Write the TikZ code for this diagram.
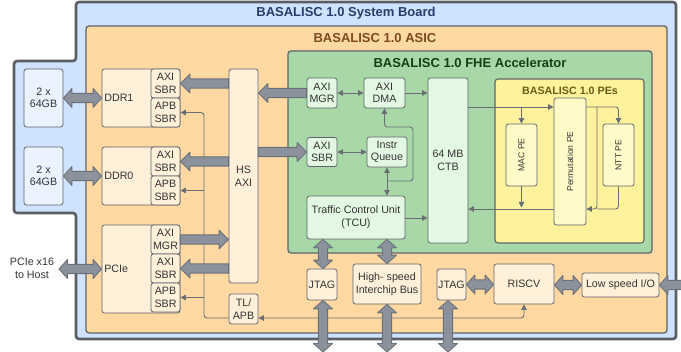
\documentclass[tikz,border=0pt]{standalone}
\usepackage{fontspec}
\setmainfont{Liberation Sans}
\usetikzlibrary{arrows.meta,calc}
\definecolor{boardfill}{HTML}{CFE2FF}
\definecolor{boardline}{HTML}{5A5D63}
\definecolor{asicfill}{HTML}{FFD9A1}
\definecolor{fhefill}{HTML}{A8D8A8}
\definecolor{pefill}{HTML}{FFF29C}
\definecolor{peboxfill}{HTML}{FFFAC8}
\definecolor{greenbox}{HTML}{E3F8E3}
\definecolor{orangebox}{HTML}{FFF1D9}
\definecolor{bluebox}{HTML}{EAF3FF}
\definecolor{fatfill}{HTML}{8C929B}
\definecolor{fatline}{HTML}{6A7079}
\definecolor{wirecol}{HTML}{6A6E74}
\definecolor{boxline}{HTML}{5F646B}
\definecolor{txt}{HTML}{333333}
\definecolor{boardtitle}{HTML}{283D6B}
\definecolor{asictitle}{HTML}{7A4B20}
\definecolor{fhetitle}{HTML}{163F18}
\definecolor{petitle}{HTML}{6B5A14}
\tikzset{
  fat/.style={draw=fatline, fill=fatfill, line width=0.9pt, line join=round},
  box/.style={draw=boxline, rounded corners=2.5pt, line width=0.8pt, inner sep=0pt, text=txt,
    font=\fontsize{10.7}{12.6}\selectfont, align=center},
  sz/.style 2 args={minimum width=#1, minimum height=#2},
  obox/.style={box, fill=orangebox},
  gbox/.style={box, fill=greenbox},
  bbox/.style={box, fill=bluebox},
  pbox/.style={box, fill=peboxfill},
  container/.style={draw=#1, rounded corners=3pt, line width=1.3pt, inner sep=0pt},
  title/.style={font=\bfseries\fontsize{13}{15}\selectfont, inner sep=0pt},
  lbl/.style={text=txt, font=\fontsize{10.7}{12.6}\selectfont, inner sep=0pt, align=center},
  rlbl/.style={text=txt, font=\fontsize{8.6}{10}\selectfont, inner sep=0pt, rotate=90},
  wire/.style={draw=wirecol, line width=0.9pt, rounded corners=3pt},
  tip/.style={-{Triangle[length=5.5pt,width=5.5pt]}},
  tips/.style={{Triangle[length=5.5pt,width=5.5pt]}-{Triangle[length=5.5pt,width=5.5pt]}},
}
\newcommand{\fatboth}[2]{%
  \path[fat] let \p1=(#1), \p2=(#2), \n1={atan2(\y2-\y1,\x2-\x1)}, \n2={veclen(\x2-\x1,\y2-\y1)} in
    [shift={(\p1)}, rotate=\n1] (0pt,0pt) -- (8.5pt,9.5pt) -- (8.5pt,4.6pt) -- (\n2-8.5pt,4.6pt) -- (\n2-8.5pt,9.5pt)
    -- (\n2,0pt) -- (\n2-8.5pt,-9.5pt) -- (\n2-8.5pt,-4.6pt) -- (8.5pt,-4.6pt) -- (8.5pt,-9.5pt) -- cycle;}
\newcommand{\fatone}[2]{%
  \path[fat] let \p1=(#1), \p2=(#2), \n1={atan2(\y2-\y1,\x2-\x1)}, \n2={veclen(\x2-\x1,\y2-\y1)} in
    [shift={(\p1)}, rotate=\n1] (0pt,4.6pt) -- (\n2-9.5pt,4.6pt) -- (\n2-9.5pt,9.5pt)
    -- (\n2,0pt) -- (\n2-9.5pt,-9.5pt) -- (\n2-9.5pt,-4.6pt) -- (0pt,-4.6pt) -- cycle;}
\begin{document}
\begin{tikzpicture}[x=1pt,y=-1pt]
\useasboundingbox (0,0) rectangle (681,352);
% system board
\draw[line width=2.6pt, draw=boardline, fill=boardfill, rounded corners=3pt]
  (76,2) -- (676,2) -- (676,339) -- (76,339) -- (76,213) -- (14,213) -- (14,61) -- (76,61) -- cycle;
\node[title, text=boardtitle] (boardt) at (346,13) {BASALISC 1.0 System Board};
% ASIC
\node[container=boxline, fill=asicfill, sz={581pt}{307pt}] (asic) at (376.5,179.5) {};
\node[title, text=asictitle] (asict) at (375,38.5) {BASALISC 1.0 ASIC};
% FHE accelerator
\node[container=boxline, fill=fhefill, sz={364pt}{202pt}] (fhe) at (470,152) {};
\node[title, text=fhetitle] (fhet) at (470,62.5) {BASALISC 1.0 FHE Accelerator};
% PEs
\node[container=boxline, fill=pefill, sz={149pt}{164pt}, line width=1.1pt] (pes) at (569.5,161) {};
\node[title, text=petitle, font=\bfseries\fontsize{10.7}{12}\selectfont] (pest) at (570,90.5) {BASALISC 1.0 PEs};

% memory boxes
\node[bbox, sz={39pt}{58pt}] (g1) at (43.5,98) {2 x\\64GB};
\node[bbox, sz={39pt}{58pt}] (g0) at (43.5,176) {2 x\\64GB};
\node[lbl] (host) at (32,268.5) {PCIe x16\\to Host};
\coordinate (hostpt) at (59,269);

% DDR / PCIe controllers
\node[obox, sz={78pt}{58pt}] (ddr1) at (141,98) {};
\node[lbl, anchor=west] (ddr1l) at ([xshift=2.5pt]ddr1.west) {DDR1};
\node[obox, sz={29pt}{29pt}] (ddr1axi) at (165.5,83.5) {AXI\\SBR};
\node[obox, sz={29pt}{29pt}] (ddr1apb) at (165.5,112.5) {APB\\SBR};
\node[obox, sz={78pt}{58pt}] (ddr0) at (141,176) {};
\node[lbl, anchor=west] (ddr0l) at ([xshift=2.5pt]ddr0.west) {DDR0};
\node[obox, sz={29pt}{29pt}] (ddr0axi) at (165.5,161.5) {AXI\\SBR};
\node[obox, sz={29pt}{29pt}] (ddr0apb) at (165.5,190.5) {APB\\SBR};
\node[obox, sz={78pt}{88pt}] (pcie) at (141,269) {};
\node[lbl, anchor=west] (pciel) at ([xshift=2.5pt]pcie.west) {PCIe};
\node[obox, sz={29pt}{29pt}] (pciemgr) at (165.5,239.5) {AXI\\MGR};
\node[obox, sz={29pt}{29pt}] (pcieaxi) at (165.5,268.5) {AXI\\SBR};
\node[obox, sz={29pt}{29pt}] (pcieapb) at (165.5,297.5) {APB\\SBR};
\node[obox, sz={29pt}{214pt}] (hsaxi) at (243.5,176) {HS\\AXI};
\node[obox, sz={29pt}{30pt}] (tlapb) at (243.5,309) {TL/\\APB};

% FHE internals
\node[gbox, sz={30pt}{30pt}] (fhemgr) at (322,93) {AXI\\MGR};
\node[gbox, sz={41pt}{30pt}] (dma) at (384.5,93) {AXI\\DMA};
\node[gbox, sz={30pt}{29pt}] (fhesbr) at (322,152) {AXI\\SBR};
\node[gbox, sz={40pt}{30pt}] (iq) at (387,152) {Instr\\Queue};
\node[gbox, sz={98pt}{43pt}] (tcu) at (356,217.5) {Traffic Control Unit\\(TCU)};
\node[gbox, sz={40pt}{165pt}] (ctb) at (448,160.5) {64 MB\\CTB};
\node[pbox, sz={31pt}{62pt}] (mac) at (521.5,155) {};
\node[rlbl] (macl) at (mac) {MAC PE};
\node[pbox, sz={32pt}{127pt}] (perm) at (570,161.5) {};
\node[rlbl] (perml) at (perm) {Permutation PE};
\node[pbox, sz={31pt}{62pt}] (ntt) at (618.5,155) {};
\node[rlbl] (nttl) at (ntt) {NTT PE};

% bottom row
\node[obox, sz={30pt}{31pt}] (jtag1) at (322,284.5) {JTAG};
\node[obox, sz={68pt}{40pt}] (hsib) at (387,284) {High- speed\\Interchip Bus};
\node[obox, sz={29pt}{31pt}] (jtag2) at (451.5,284.5) {JTAG};
\node[obox, sz={60pt}{40pt}] (riscv) at (524,284) {RISCV};
\node[obox, sz={77pt}{24pt}] (lsio) at (620.5,285) {Low speed I/O};

% thin wires in FHE
\draw[wire,tips] (fhemgr.east) -- (dma.west);
\draw[wire,tip] (dma.east) -- (ctb.west |- dma.east);
\draw[wire,tips] (fhesbr.east) -- (iq.west |- fhesbr.east);
\draw[wire,tips] (iq.south) -- (iq.south |- tcu.north);
\draw[wire,tip] (iq.south |- 0,181) -- (413,181) -- (413,127) -- (dma.south |- 0,127) -- (dma.south);
\draw[wire,tip] (tcu.east |- 0,218) -- (ctb.west |- 0,218);
% PEs wires
\draw[wire,tip] (ctb.east |- 0,107) -- (perm.west |- 0,107);
\draw[wire,tip] (mac.north |- 0,107) -- (mac.north);
\draw[wire,tip] (perm.east |- 0,107) -- (ntt.north |- 0,107) -- (ntt.north);
\draw[wire,tip] (597,107) -- (597,209) -- (perm.east |- 0,209);
\draw[wire] (ntt.south) -- (ntt.south |- 0,209) -- (597,209);
\draw[wire,tip] (perm.west |- 0,209) -- (ctb.east |- 0,209);
\draw[wire,tip] (mac.south) -- (mac.south |- 0,207.5);
% APB wires
\draw[wire,tip] (tlapb.west |- 0,318) -- (204,318) -- (204,112.5) -- (ddr1apb.east);
\draw[wire,tip] (204,190.5) -- (ddr0apb.east);
\draw[wire,tip] (204,297.5) -- (pcieapb.east);
\draw[wire,tips] (tlapb.east |- 0,318) -- (riscv.south |- 0,318) -- (riscv.south);

% fat arrows
\coordinate (bot1) at (323,352);
\coordinate (bot2) at (387,352);
\coordinate (bot3) at (448,352);
\coordinate (rightpt) at (692,285);
\fatboth{g1.east}{ddr1.west}
\fatboth{g0.east}{ddr0.west}
\fatboth{hostpt}{pcie.west}
\fatone{hsaxi.west |- ddr1axi.east}{ddr1axi.east}
\fatone{hsaxi.west |- ddr0axi.east}{ddr0axi.east}
\fatone{pciemgr.east}{hsaxi.west |- pciemgr.east}
\fatone{hsaxi.west |- pcieaxi.east}{pcieaxi.east}
\fatone{fhemgr.west}{hsaxi.east |- fhemgr.west}
\fatone{hsaxi.east |- fhesbr.west}{fhesbr.west}
\fatboth{bot1 |- tcu.south}{bot1 |- jtag1.north}
\fatboth{hsib.north |- tcu.south}{hsib.north}
\fatboth{bot1 |- jtag1.south}{bot1}
\fatboth{hsib.south}{bot2}
\fatboth{bot3 |- jtag2.south}{bot3}
\fatboth{jtag2.east}{riscv.west |- jtag2.east}
\fatboth{riscv.east |- lsio.west}{lsio.west}
\fatboth{lsio.east}{rightpt}
\end{tikzpicture}
\end{document}
